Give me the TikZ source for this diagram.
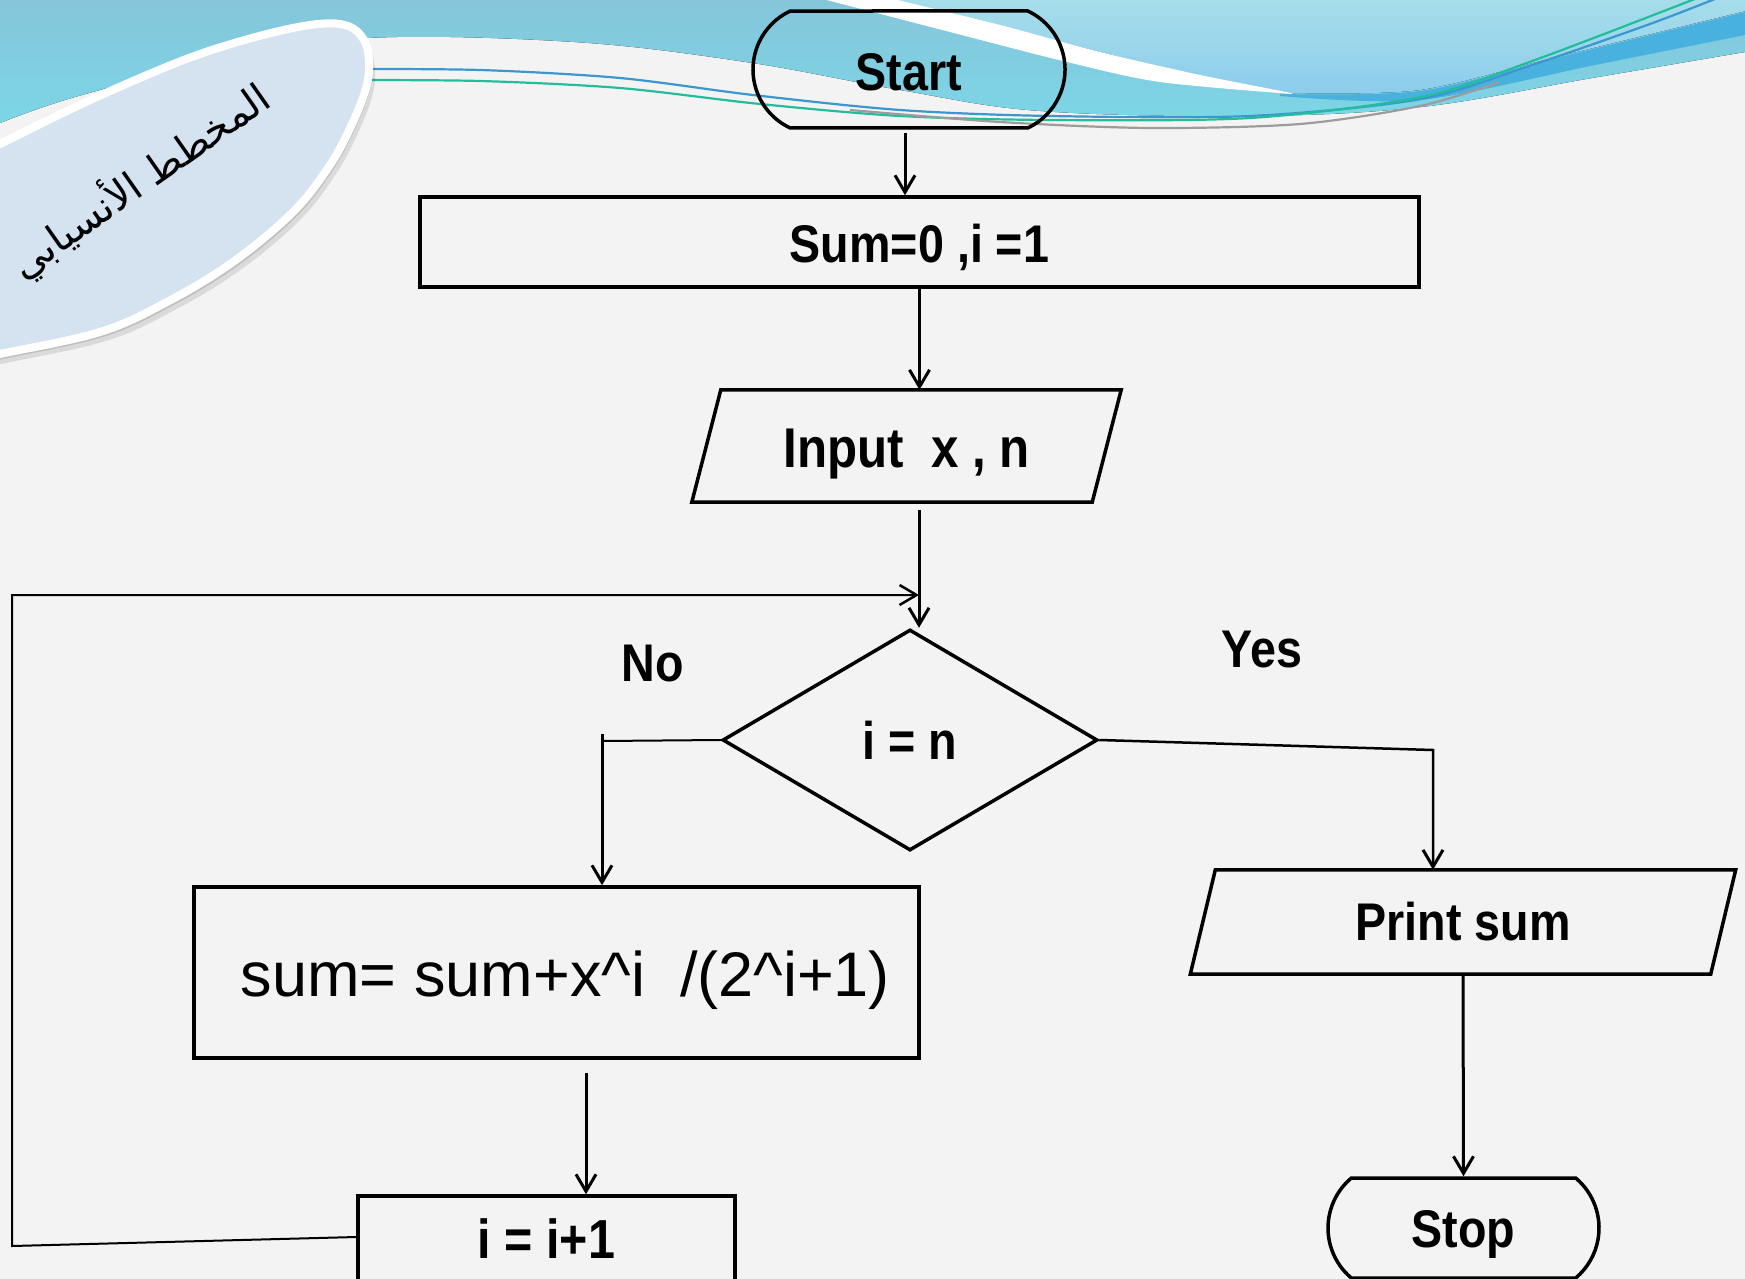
\documentclass[tikz,border=0pt]{standalone}
\usepackage{fontspec}
\setmainfont{Liberation Sans}
\newfontfamily\chartfont[FakeStretch=0.88]{Liberation Sans}
\newfontfamily\arabicfont[Script=Arabic]{DejaVu Sans}
\TeXXeTstate=1
\usetikzlibrary{shapes.geometric,shapes.misc,arrows.meta,calc}

\definecolor{pagebg}{HTML}{F3F3F3}
\definecolor{wavetop}{HTML}{86C5DA}
\definecolor{wavelow}{HTML}{7BD6E6}
\definecolor{skytop}{HTML}{A8DEEA}
\definecolor{skylow}{HTML}{8CCDEC}
\definecolor{deepband}{HTML}{48B1DD}
\definecolor{lineblue}{HTML}{3C97CF}
\definecolor{linegreen}{HTML}{22BE9C}
\definecolor{linegray}{HTML}{9C9C9C}
\definecolor{badgefill}{HTML}{D5E2EF}

\tikzset{
  outline/.style={draw=black, line width=3.5pt},
  box/.style={outline, rectangle, inner sep=0pt},
  flowtext/.style={font=\chartfont\bfseries\fontsize{53}{60}\selectfont},
  terminal/.style={outline, rounded rectangle, inner sep=0pt, flowtext},
  decision/.style={outline, diamond, inner sep=0pt, flowtext},
  ioshape/.style={rectangle, inner sep=0pt, flowtext},
  arr/.style={line width=3pt, -{Straight Barb[length=17pt,width=20pt,line width=3pt]}},
  thinarr/.style={line width=2pt, -{Straight Barb[length=17pt,width=20pt,line width=2.5pt]}},
  badgeoutline/.style={smooth cycle, tension=0.6},
}

\begin{document}
\begin{tikzpicture}[x=1pt,y=-1pt]
\useasboundingbox (0,0) rectangle (1745,1279);
\clip (0,0) rectangle (1745,1279);
\fill[pagebg] (0,0) rectangle (1745,1279);

% wave across the top of the page
\fill[top color=wavetop, bottom color=wavelow] (0,-5) -- (1750,-5) -- (1750,52) -- plot[smooth, tension=0.6] coordinates {(1745,52) (1592,78) (1421,107) (1250,116) (1040,111) (900,90) (746,62) (574,42) (367,38) (220,60) (75,97) (0,123)} -- cycle;
% lighter sky on the right
\fill[top color=skytop, bottom color=skylow] (880,-5) -- plot[smooth] coordinates {(885,0) (1000,26) (1100,52) (1200,76) (1292,93)} -- plot[smooth] coordinates {(1292,93) (1420,90) (1560,56) (1750,10)} -- (1750,-5) -- cycle;
% deeper blue band
\fill[deepband] plot[smooth] coordinates {(1280,94) (1420,91) (1560,57) (1750,11)} -- plot[smooth] coordinates {(1750,34) (1600,64) (1420,100) (1280,96)} -- cycle;
% white stripe
\fill[white] plot[smooth] coordinates {(885,-3) (1000,25) (1100,52) (1200,75) (1292,93)} -- plot[smooth] coordinates {(1292,94) (1160,82) (1067,62) (950,32) (815,-3)} -- cycle;
% thin swooping lines
\draw[lineblue, line width=2.2pt] plot[smooth] coordinates {(340,69) (480,70) (620,78) (753,95) (900,110) (1050,116) (1250,116) (1421,99) (1535,64) (1650,24) (1720,-3)};
\draw[linegreen, line width=2.2pt] plot[smooth] coordinates {(340,80) (480,81) (620,88) (760,104) (900,116) (1050,120) (1250,118) (1421,97) (1535,60) (1700,-3)};
\draw[linegray, line width=2.2pt] plot[smooth] coordinates {(850,110) (1000,122) (1150,128) (1300,124) (1420,106) (1500,82)};

% title badge with a soft shadow
\fill[black, opacity=0.10, shift={(6,9)}] plot[badgeoutline] coordinates {(-60,172) (0,144) (67,111) (133,81) (200,54) (267,34) (318,24) (348,26) (364,40) (369,62) (366,88) (352,124) (330,165) (293,212) (233,262) (167,302) (100,332) (0,354) (-60,366) (-140,340) (-140,220)};
\fill[black, opacity=0.12, shift={(3,5)}] plot[badgeoutline] coordinates {(-60,172) (0,144) (67,111) (133,81) (200,54) (267,34) (318,24) (348,26) (364,40) (369,62) (366,88) (352,124) (330,165) (293,212) (233,262) (167,302) (100,332) (0,354) (-60,366) (-140,340) (-140,220)};
\filldraw[fill=badgefill, draw=white, line width=8pt] plot[badgeoutline] coordinates {(-60,172) (0,144) (67,111) (133,81) (200,54) (267,34) (318,24) (348,26) (364,40) (369,62) (366,88) (352,124) (330,165) (293,212) (233,262) (167,302) (100,332) (0,354) (-60,366) (-140,340) (-140,220)};
\node[rotate=35, font=\arabicfont\fontsize{40}{46}\selectfont] (title) at (140,181) {\beginR المخطط الأنسيابي\endR};

% flowchart nodes
\node[terminal, minimum width=312, minimum height=117, rounded rectangle arc length=130, text height=42pt, text depth=0pt] (start) at (909,69.5) {Start};
\node[box, flowtext, minimum width=999, minimum height=90, text height=40pt, text depth=0pt] (init) at (919.5,242) {Sum=0 ,i =1};
\node[ioshape, font=\chartfont\bfseries\fontsize{56}{62}\selectfont, minimum width=400, minimum height=112, text height=42pt, text depth=0pt] (input) at (906.5,446) {Input\ \ x , n};
\draw[outline] ($(input.north west)+(14.5,0)$) -- ($(input.north east)+(14.5,0)$) -- ($(input.south east)+(-14.5,0)$) -- ($(input.south west)+(-14.5,0)$) -- cycle;
\node[decision, minimum width=375, minimum height=221] (dec) at (910,740) {i = n};
\node[flowtext] (no) at (653,664) {No};
\node[flowtext] (yes) at (1262,650) {Yes};
\node[box, minimum width=725, minimum height=171, text height=56pt, text depth=8pt, font=\fontsize{63}{70}\selectfont] (upd) at (556.5,972.5) {\hspace*{18pt}sum= sum+x\textasciicircum i\ \ /(2\textasciicircum i+1)};
\node[ioshape, minimum width=520, minimum height=104] (print) at (1463,922) {Print sum};
\draw[outline] ($(print.north west)+(12.5,0)$) -- ($(print.north east)+(12.5,0)$) -- ($(print.south east)+(-12.5,0)$) -- ($(print.south west)+(-12.5,0)$) -- cycle;
\node[box, flowtext, font=\chartfont\bfseries\fontsize{55}{60}\selectfont, minimum width=377, minimum height=104, text height=40pt, text depth=20pt] (inc) at (546.5,1248) {i = i+1};
\node[terminal, minimum width=271, minimum height=100, rounded rectangle arc length=100, text height=40pt, text depth=2pt] (stop) at (1463.5,1228) {Stop};

% bend points of the connectors
\coordinate (merge) at (919,595);
\coordinate (loopbl) at (12,1246);
\coordinate (looptl) at (12,595);
\coordinate (nobend) at (602,741);
\coordinate (yesbend) at (1433,750);
\coordinate (s1) at ($(start.south)+(-4,3)$);
\coordinate (in1) at ($(input.south -| merge)+(0,8)$);
\coordinate (u1) at ($(upd.south)+(29.5,13)$);

% connectors
\draw[arr] (s1) -- (s1 |- init.north);
\draw[arr] (init.south) -- (init.south |- input.north);
\draw[arr] (in1) -- (merge |- dec.north);
\draw[thinarr] ($(inc.west)+(0,-11)$) -- (loopbl) -- (looptl) -- (merge);
\draw[line width=2pt] (dec.west) -- (nobend);
\draw[arr] ($(nobend)+(0,-7)$) -- (nobend |- upd.north);
\draw[arr, line width=2.5pt] (dec.east) -- (yesbend) -- (yesbend |- print.north);
\draw[arr] (u1) -- (u1 |- inc.north);
\draw[arr] (print.south) -- (stop.north);
\end{tikzpicture}
\end{document}
